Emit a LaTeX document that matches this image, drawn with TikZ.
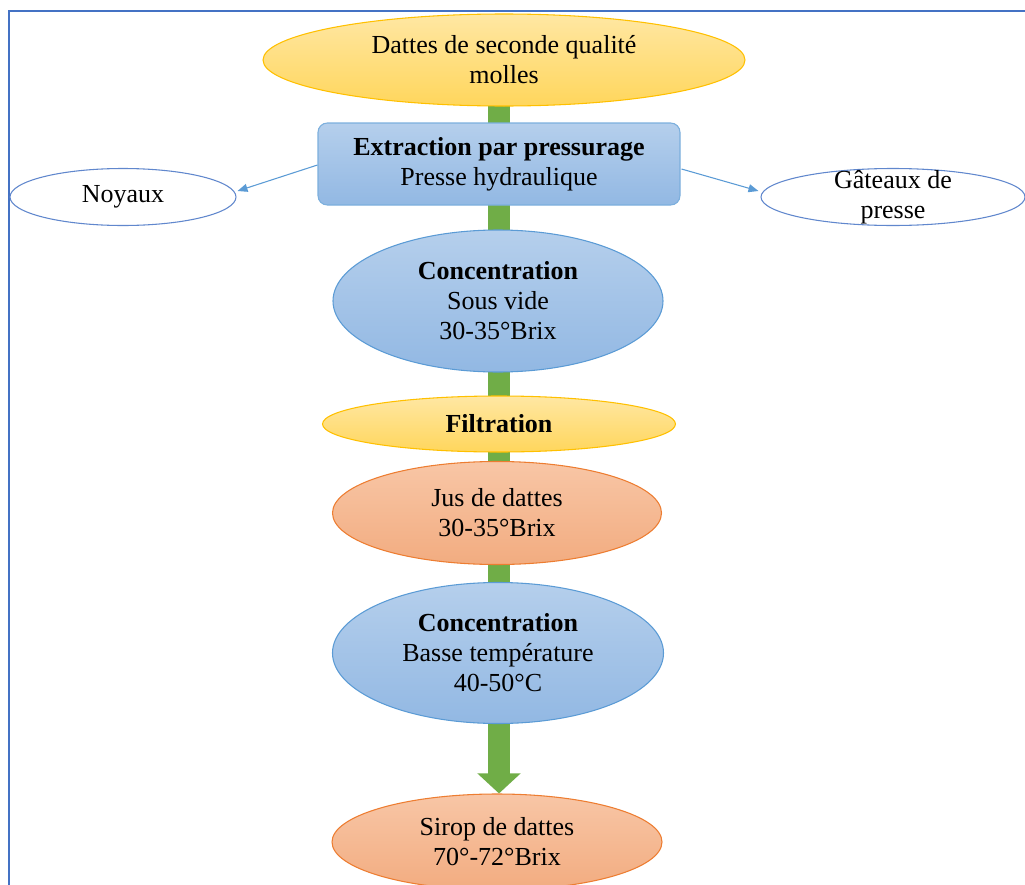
\documentclass[tikz,border=0pt]{standalone}
\usepackage{fontspec}
\setmainfont{Liberation Serif}
\usetikzlibrary{shapes.geometric,arrows.meta,calc,backgrounds,shadings}

\definecolor{frameblue}{HTML}{4472C4}
\definecolor{linkblue}{HTML}{5B9BD5}
\definecolor{stemgreen}{HTML}{70AD47}
\definecolor{ylTop}{HTML}{FFE7A3}
\definecolor{ylBot}{HTML}{FFD65C}
\definecolor{ylLine}{HTML}{FFC000}
\definecolor{blTop}{HTML}{B5CFEC}
\definecolor{blBot}{HTML}{92B8E3}
\definecolor{blLine}{HTML}{5B9BD5}
\definecolor{orTop}{HTML}{F8C6A6}
\definecolor{orBot}{HTML}{F2AC80}
\definecolor{orLine}{HTML}{ED7D31}

\tikzset{
  txt/.style={align=center, font=\fontsize{19.5}{22.5}\selectfont},
  yellownode/.style={ellipse, draw=ylLine, line width=0.8pt, top color=ylTop, bottom color=ylBot, inner sep=0pt, txt},
  bluenode/.style={ellipse, draw=blLine, line width=0.8pt, top color=blTop, bottom color=blBot, inner sep=0pt, txt},
  orangenode/.style={ellipse, draw=orLine, line width=0.8pt, top color=orTop, bottom color=orBot, inner sep=0pt, txt},
  boxnode/.style={rectangle, rounded corners=7pt, draw=blLine!80, line width=0.8pt, top color=blTop, bottom color=blBot, inner sep=0pt, txt},
  sidenode/.style={ellipse, draw=frameblue!85, line width=0.8pt, fill=white, inner sep=0pt},
  sidelabel/.style={txt},
  sidelink/.style={draw=linkblue, line width=0.8pt, -{Triangle[length=7.5pt,width=6pt]}},
  stem/.style={draw=stemgreen, line width=16.5pt, -{Triangle[length=15pt,width=31.5pt]}},
  frameline/.style={draw=frameblue, line width=1.6pt}
}

\begin{document}
\begin{tikzpicture}[x=0.75pt,y=-0.75pt]
\useasboundingbox (0,0) rectangle (1025,885);

% surrounding frame (open at the right and bottom)
\draw[frameline] (9,885) -- (9,11) -- (1025,11);

% process steps
\node[yellownode, minimum width=361.5pt, minimum height=69pt] (dattes) at (504,60)
  {Dattes de seconde qualité\\molles};
\node[boxnode, minimum width=271.5pt, minimum height=61.5pt] (extr) at (499,164)
  {\textbf{Extraction par pressurage}\\Presse hydraulique};
\node[bluenode, minimum width=247.5pt, minimum height=106.5pt] (conc1) at (498,301)
  {\textbf{Concentration}\\Sous vide\\30-35°Brix};
\node[yellownode, minimum width=264.75pt, minimum height=42pt] (filt) at (499,424)
  {\textbf{Filtration}};
\node[orangenode, minimum width=246.75pt, minimum height=77.25pt] (jus) at (497,513)
  {Jus de dattes\\30-35°Brix};
\node[bluenode, minimum width=248.25pt, minimum height=105.75pt] (conc2) at (498,653)
  {\textbf{Concentration}\\Basse température\\40-50°C};
\node[orangenode, minimum width=247.5pt, minimum height=72pt] (sirop) at (497,842)
  {Sirop de dattes\\70°-72°Brix};

% by-products
\node[sidenode, minimum width=169.5pt, minimum height=42.75pt,
      label={[sidelabel]center:Noyaux}] (noy) at (123,197) {};
\node[sidenode, minimum width=198pt, minimum height=42.75pt,
      label={[sidelabel]center:Gâteaux de\\presse}] (gat) at (893,197) {};

% main flow, behind the steps
\begin{scope}[on background layer]
  \draw[stem] (filt.center |- dattes.center) -- (filt.center |- sirop.north);
\end{scope}

% side outputs of the press
\draw[sidelink] ($(extr.west)+(0,1)$) -- ($(noy.east)+(1,-6)$);
\draw[sidelink] ($(extr.east)+(1,5)$) -- ($(gat.west)+(-2,-6)$);
\end{tikzpicture}
\end{document}
